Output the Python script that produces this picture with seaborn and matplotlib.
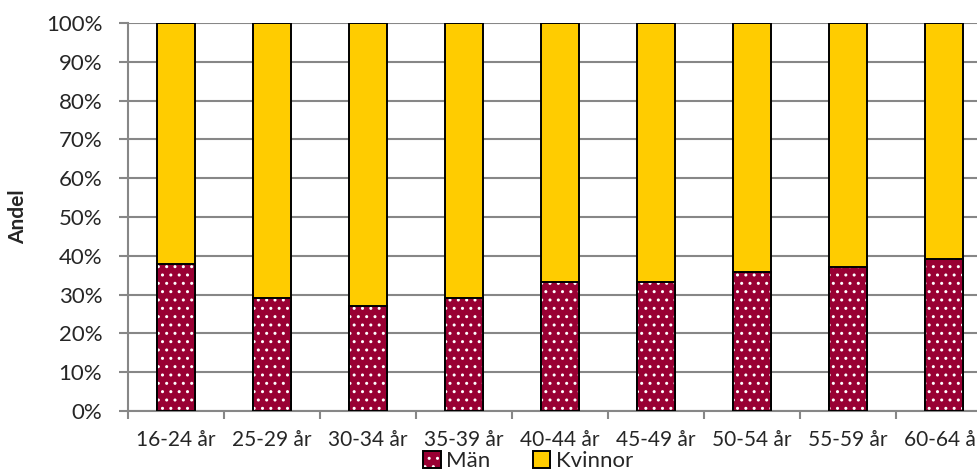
import matplotlib
matplotlib.use("Agg")
import matplotlib.pyplot as plt
import seaborn as sns
import pandas as pd
import numpy as np
from matplotlib.patches import Patch
from matplotlib.legend_handler import HandlerTuple
from matplotlib.ticker import FixedLocator, PercentFormatter

# Age groups and share of men / women per group (percent)
age_groups = ["16-24 år", "25-29 år", "30-34 år", "35-39 år", "40-44 år",
              "45-49 år", "50-54 år", "55-59 år", "60-64 år"]
man = [37.8, 29.0, 27.0, 29.1, 33.2, 33.3, 35.8, 37.1, 39.3]
kvinnor = [100 - m for m in man]

df = pd.DataFrame({"grupp": age_groups, "Män": man, "Kvinnor": kvinnor})
df["Totalt"] = df["Män"] + df["Kvinnor"]

sns.set_style("white")
plt.rcParams["font.family"] = ["Lato", "DejaVu Sans"]
plt.rcParams["hatch.linewidth"] = 1.0

RED = "#990033"
YELLOW = "#FFCC00"
GRID = "#878787"

fig = plt.figure(figsize=(9.78, 4.71), dpi=100)
ax = fig.add_axes([128 / 978, 60 / 471, 864 / 978, 388 / 471])

bw = 0.4
# Women stacked on top: draw full-height bars, then men on top of them
sns.barplot(data=df, x="grupp", y="Totalt", color=YELLOW, saturation=1,
            width=bw, edgecolor="black", linewidth=1.4, ax=ax, zorder=3)
n_k = len(ax.patches)
sns.barplot(data=df, x="grupp", y="Män", color=RED, saturation=1,
            width=bw, edgecolor="white", linewidth=0, hatch="..", ax=ax, zorder=4)
for p in ax.patches[n_k:]:
    x, w, h = p.get_x(), p.get_width(), p.get_height()
    ax.add_patch(plt.Rectangle((x, 0), w, h, fill=False, edgecolor="black",
                               linewidth=1.4, zorder=5))

ax.set_xlim(-0.5, len(age_groups) - 0.5)
ax.set_ylim(0, 100)
ax.yaxis.set_major_locator(FixedLocator(np.arange(0, 101, 10)))
ax.yaxis.set_major_formatter(PercentFormatter(decimals=0))
ax.grid(axis="y", color=GRID, linewidth=1.5, zorder=0)
ax.grid(axis="x", visible=False)
ax.set_axisbelow(True)

for s in ["top", "right"]:
    ax.spines[s].set_visible(False)
for s in ["left", "bottom"]:
    ax.spines[s].set_color(GRID)
    ax.spines[s].set_linewidth(1.5)

ax.set_xlabel("")
ax.set_ylabel("Andel", fontsize=15, fontweight="bold")
ax.yaxis.set_label_coords(-100 / 864, 0.5)
ax.tick_params(axis="y", length=6.5, color=GRID, width=1.5, labelsize=16, pad=12, left=True)
ax.tick_params(axis="x", which="major", length=0, labelsize=15, pad=14)
ax.set_xticks(np.arange(len(age_groups) + 1) - 0.5, minor=True)
ax.tick_params(axis="x", which="minor", length=6, color=GRID, width=1.5, bottom=True)

man_handle = (Patch(facecolor=RED, edgecolor="white", hatch="..", linewidth=0),
              Patch(facecolor="none", edgecolor="black", linewidth=1.4))
kv_handle = Patch(facecolor=YELLOW, edgecolor="black", linewidth=1.4)
leg = fig.legend([man_handle, kv_handle], ["Män", "Kvinnor"], loc="center",
                 bbox_to_anchor=(528 / 978, 10 / 471),
                 handler_map={tuple: HandlerTuple(ndivide=1, pad=0)},
                 ncol=2, frameon=False, fontsize=16, handlelength=0.8, handleheight=0.8,
                 handletextpad=0.25, columnspacing=1.9, borderpad=0)

fig.savefig("out.png", dpi=100)
